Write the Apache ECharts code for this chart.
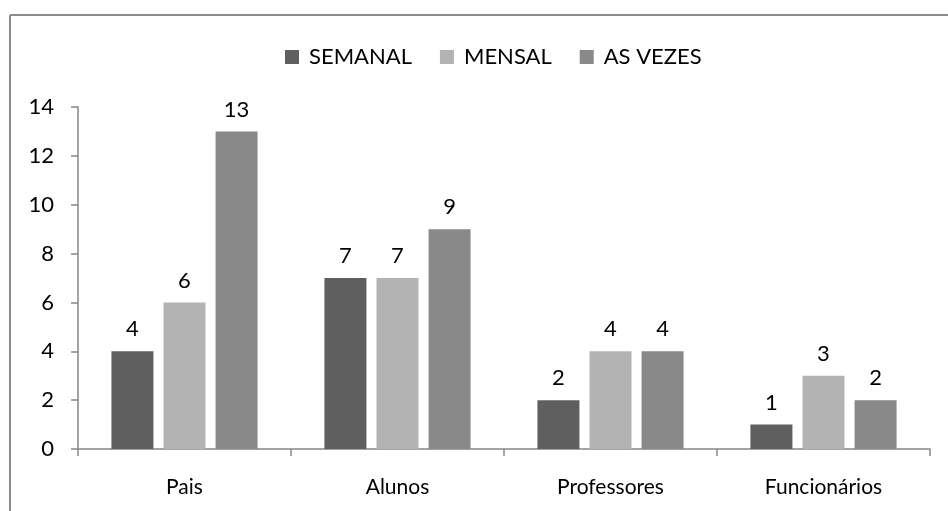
<!DOCTYPE html>
<html>
<head>
<meta charset="utf-8">
<script src="https://cdn.jsdelivr.net/npm/echarts@6/dist/echarts.min.js"></script>
<style>
  html, body { margin: 0; padding: 0; background: #fff; }
  #chart { width: 948px; height: 511px; }
</style>
</head>
<body>
<div id="chart"></div>
<script>
// categorias e valores
const categories = ['Pais', 'Alunos', 'Professores', 'Funcionários']
const semanal = [4, 7, 2, 1]
const mensal = [6, 7, 4, 3]
const asVezes = [13, 9, 4, 2]
const seriesNames = ['SEMANAL', 'MENSAL', 'AS VEZES']
const colors = ['#5f5f5f', '#b3b3b3', '#898989']

const font = 'Lato, "Open Sans", sans-serif'

function makeSeries(name, data, index) {
  return {
    name: name,
    type: 'bar',
    data: data,
    barWidth: 42,
    barGap: '24%',
    itemStyle: { color: colors[index] },
    label: {
      show: true,
      position: 'top',
      distance: 11,
      color: '#000',
      fontFamily: font,
      fontSize: 22
    }
  }
}

const chart = echarts.init(document.getElementById('chart'))
chart.setOption({
  animation: false,
  textStyle: { fontFamily: font },
  graphic: [
    { type: 'line', shape: { x1: 10, y1: 15, x2: 948, y2: 15 }, style: { stroke: '#8c8c8c', lineWidth: 2 } },
    { type: 'line', shape: { x1: 10, y1: 15, x2: 10, y2: 511 }, style: { stroke: '#8c8c8c', lineWidth: 2 } }
  ],
  legend: {
    top: 41,
    left: 280,
    itemWidth: 14,
    itemHeight: 14,
    itemGap: 28,
    icon: 'rect',
    textStyle: { color: '#000', fontFamily: font, fontSize: 22, padding: [0, 0, 0, 5] },
    data: seriesNames
  },
  grid: {
    left: 78,
    right: 18,
    top: 107,
    bottom: 62,
    containLabel: false
  },
  xAxis: {
    type: 'category',
    data: categories,
    axisLine: { lineStyle: { color: '#868686', width: 1.5 } },
    axisTick: { show: true, length: 7, lineStyle: { color: '#868686', width: 1.5 } },
    axisLabel: { color: '#000', fontFamily: font, fontSize: 21, margin: 28 }
  },
  yAxis: {
    type: 'value',
    min: 0,
    max: 14,
    interval: 2,
    axisLine: { show: true, lineStyle: { color: '#868686', width: 1.5 } },
    axisTick: { show: true, length: 7, lineStyle: { color: '#868686', width: 1.5 } },
    splitLine: { show: false },
    axisLabel: { color: '#000', fontFamily: font, fontSize: 22, margin: 24 }
  },
  series: [
    makeSeries(seriesNames[0], semanal, 0),
    makeSeries(seriesNames[1], mensal, 1),
    makeSeries(seriesNames[2], asVezes, 2)
  ]
})
</script>
</body>
</html>
